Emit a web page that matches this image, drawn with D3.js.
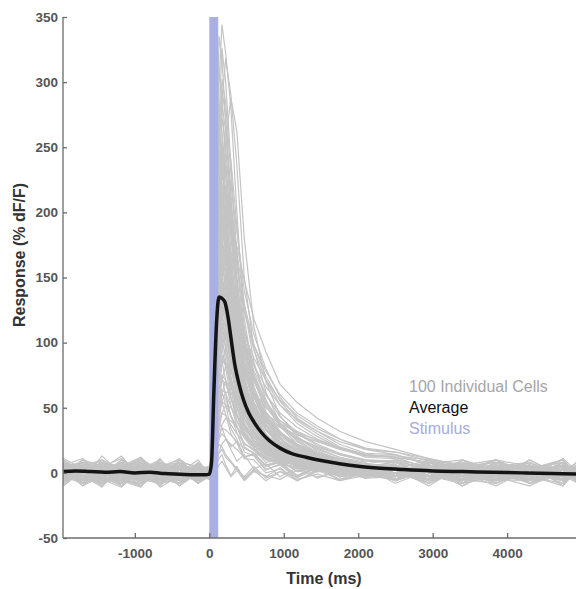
<!DOCTYPE html>
<html>
<head>
<meta charset="utf-8">
<script src="https://cdn.jsdelivr.net/npm/d3@7"></script>
<style>
  body { margin: 0; background: #fff; }
  svg { display: block; font-family: "Liberation Sans", Arial, sans-serif; }
</style>
</head>
<body>
<svg id="chart" width="576" height="589"></svg>
<script>
// sample times (ms) shared by every cell trace
const cellTimes = [-1960,-1700,-1440,-1180,-920,-660,-400,-150,0, 50,100,130,170,220,290,370,470,600,760,950,1180,1450,1750,2100, 2500,2950,3400,3850,4300,4750,4960];

// individual cells, grouped roughly by peak size (% dF/F)
const cellsVeryTall = [
  [5,-6,10,2,-8,3,11,-5,0, 12,190,300,344,322,280,200,118,74,45,30,18,12,6,4, 3,-8,10,-2,5,-6,2],
  [-3,8,-10,5,12,-2,-6,3,2, 20,240,335,318,270,196,130,82,50,33,20,12,5,7,1, -5,6,0,-10,3,8,-3],
  [8,0,-5,-11,3,10,-3,6,-2, 8,150,270,326,300,236,162,104,66,42,27,15,9,4,6, 0,5,-6,3,-3,11,0],
  [-8,3,6,-3,-10,5,2,-5,3, 5,110,205,285,318,290,236,150,95,62,38,24,15,10,5, 6,-3,2,10,-8,0,5],
  [2,-10,3,13,-5,-2,8,-8,-3, 25,250,310,288,235,168,112,70,44,28,17,8,6,2,-3, 8,-2,-8,5,0,-5,6],
  [11,3,-6,0,8,-11,-2,5,-5, 10,160,255,302,284,230,168,112,72,47,32,20,13,8,3, -2,10,3,-6,6,-10,3]
];
const cellsTall = [
  [-5,6,2,-8,10,3,-10,0,3, 14,175,262,295,272,215,150,96,60,38,24,14,8,3,5, 2,-6,5,8,-5,3,-2],
  [3,-2,-11,6,0,-6,10,2,-3, 4,60,120,190,255,288,262,180,112,70,44,28,17,10,6, -3,5,-10,2,8,-2,0],
  [6,11,0,-5,-10,2,5,-3,0, 30,230,280,262,214,150,100,62,40,26,16,11,4,6,0, 5,0,-5,-8,3,10,-6],
  [-10,2,8,5,-3,-8,0,6,-2, 9,150,235,272,250,198,140,92,58,37,23,13,10,5,2, 10,-5,3,0,-3,6,-8],
  [0,-5,13,-2,6,-3,-8,3,5, 3,90,170,235,266,240,190,128,85,56,36,22,14,9,6, -6,3,8,-3,-10,2,5],
  [5,-8,-3,10,2,-10,6,-2,-5, 22,210,260,242,200,146,100,66,42,27,18,9,7,1,3, 0,8,-3,5,-8,-2,10],
  [-2,10,5,-6,-11,8,3,-6,2, 11,140,222,255,236,185,130,85,54,34,22,15,8,4,-2, 3,-10,6,2,-5,8,-2],
  [8,-3,-8,3,11,-5,-3,8,0, 7,130,214,250,236,192,142,98,66,44,30,20,12,8,4, -8,2,-2,10,5,-5,0],
  [-6,5,3,-10,5,0,8,-5,3, 26,215,262,246,206,150,104,68,44,28,19,12,6,5,1, 6,-5,0,-6,10,-3,3],
  [2,6,-6,0,-2,11,-10,2,-2, 13,165,250,284,262,210,150,100,63,40,26,16,11,5,3, -3,6,-8,3,0,5,-5]
];
const cellsHigh = [
  [3,-5,8,-2,-6,5,0,-3,2, 10,135,210,245,230,188,140,100,72,52,36,25,16,11,7, 5,-2,-6,8,-3,2,-8],
  [-6,10,-2,5,8,-8,-5,5,-3, 20,195,240,224,186,134,92,60,38,24,14,10,4,3,-1, -5,8,2,-3,6,-6,3],
  [10,0,-10,3,-5,6,5,-8,0, 2,80,150,210,236,222,185,140,106,80,58,42,32,22,15, 14,6,0,10,-3,5,-6],
  [-3,-8,5,11,-2,-3,2,3,-5, 8,128,200,232,215,170,122,82,52,33,21,14,7,6,2, 2,-6,10,-2,-5,3,8],
  [5,3,-3,-8,10,0,-6,6,3, 12,132,198,228,218,182,140,104,76,55,40,30,21,14,9, 8,-3,5,-8,2,-2,5],
  [0,8,2,-5,-10,10,-2,-6,-2, 18,180,224,210,176,130,90,58,37,23,15,8,6,2,1, -2,3,-10,5,8,-5,0],
  [-8,2,6,0,3,-5,8,0,2, 4,72,140,195,220,205,170,130,98,74,55,40,30,20,14, 12,3,-5,6,0,10,-3],
  [6,-6,0,8,-3,2,-10,5,0, 9,118,186,216,200,158,112,74,48,30,19,12,8,4,3, -6,5,3,-5,10,-3,2],
  [-5,5,10,-6,2,-8,3,2,-3, 7,112,180,212,198,160,118,84,58,40,28,19,13,9,5, 3,10,-5,0,-8,6,-2],
  [2,-2,-6,3,12,-6,0,-2,3, 22,170,208,194,160,116,78,50,32,20,13,7,2,4,-2, 0,-5,6,3,-2,-10,6],
  [-10,3,2,-3,-6,5,10,-3,-2, 3,70,130,182,205,192,160,124,94,71,52,38,28,19,12, 11,0,-6,8,3,-3,2],
  [3,8,-5,-2,5,-10,6,0,5, 11,110,175,203,190,150,108,72,46,29,18,11,7,3,2, -3,2,8,-6,5,0,-5],
  [-2,-3,3,6,-8,3,-5,8,-3, 14,138,215,248,232,186,134,90,60,40,26,17,11,6,4, 6,-8,2,5,-3,8,-2],
  [8,2,-8,-3,6,0,3,-6,0, 9,128,204,238,228,196,160,125,98,78,60,46,36,26,18, 16,9,3,-2,6,-5,3],
  [-3,6,5,-10,0,8,-3,3,2, 19,178,218,205,170,124,84,54,35,22,14,9,5,1,2, -6,3,-2,8,-5,2,5],
  [5,-10,-2,2,10,-5,-8,2,-2, 10,115,182,210,196,158,116,80,54,36,24,16,10,7,3, 2,6,-8,-3,3,10,-6]
];
const cellsMid = [
  [0,5,-6,10,-3,-2,5,-5,3, 4,66,125,176,198,192,174,148,118,93,68,54,42,32,24, 18,11,6,10,0,5,-3],
  [-6,-3,8,2,5,-8,0,10,-2, 8,104,166,194,180,142,102,68,44,28,18,11,6,4,0, 5,-3,-6,6,2,-8,3],
  [10,-5,0,-6,-2,6,-6,-3,0, 16,155,190,178,148,108,74,48,31,20,12,6,4,3,1, -2,8,0,-5,-6,3,6],
  [-2,6,3,-5,8,2,-3,-2,-3, 9,100,160,186,176,146,112,82,60,42,30,21,14,9,6, 3,-6,8,2,-2,-5,0],
  [3,-8,-5,6,0,-10,8,5,2, 3,60,115,160,182,170,142,110,82,60,43,31,22,15,10, 8,2,-3,5,-6,0,3],
  [-5,2,10,-2,-6,3,2,-8,0, 8,96,152,178,166,132,96,64,42,27,17,10,7,2,3, -5,6,3,-8,5,2,-3],
  [6,3,-3,-10,3,5,-5,6,-2, 17,142,175,164,138,102,72,48,32,21,13,10,5,3,-1, 0,-8,5,3,-3,6,-5],
  [-8,0,5,3,-5,-3,6,2,3, 6,92,148,172,164,138,108,80,58,41,29,21,14,9,6, 6,0,-5,-2,8,-6,2],
  [2,-6,-2,8,6,-5,-2,-5,-3, 2,55,108,150,168,158,132,100,74,54,38,27,19,12,8, -3,5,-2,6,-8,3,0],
  [5,8,-8,0,-2,6,-6,3,-2, 7,88,142,165,154,122,88,58,38,25,16,10,6,3,1, 2,-5,6,-3,3,8,-6],
  [-3,-5,2,5,-8,8,3,-2,2, 15,132,162,152,126,92,64,42,27,17,11,5,4,-1,2, -6,3,2,-5,0,5,-2],
  [8,-2,-5,-6,2,-3,10,-3,0, 8,86,138,160,156,140,120,100,82,66,52,41,32,24,18, 14,7,10,2,5,-3,6],
  [0,6,6,-3,-5,0,-8,8,-5, 6,84,134,158,148,118,86,58,38,25,16,9,6,3,0, 3,-2,-8,5,6,-3,2],
  [-6,3,-3,2,10,-6,5,0,3, 1,48,98,138,155,146,122,94,70,51,36,26,18,12,7, 10,5,-3,-6,2,6,-5],
  [3,-10,8,-5,0,5,-2,-6,-2, 14,124,153,144,120,88,60,39,25,16,9,6,2,3,-2, -5,6,0,3,-8,2,5],
  [-2,5,0,8,-8,2,-3,5,0, 10,106,168,196,184,150,112,78,52,34,22,14,9,5,3, 0,5,-6,8,-2,-5,3],
  [5,0,-6,-2,3,8,-5,-2,2, 9,102,162,188,180,156,128,102,78,60,46,35,26,19,13, 12,3,-2,6,-5,2,-3],
  [-5,8,3,-8,5,-2,2,3,-3, 16,147,180,168,140,103,70,46,30,19,12,7,3,2,0, 5,-6,2,-3,6,-2,-8],
  [2,-3,-8,5,-3,6,-6,0,5, 7,90,146,170,160,130,98,70,48,33,22,14,10,5,4, -2,8,-3,-6,3,0,6],
  [6,-5,5,0,-10,3,0,-5,-2, 2,50,96,134,152,142,116,86,62,44,31,22,15,10,6, 6,-3,5,0,-6,3,-2]
];
const cellsMidLow = [
  [3,2,-5,-8,6,-3,5,-2,0, 6,80,128,148,138,110,80,54,36,24,15,9,6,2,1, -3,5,8,-5,0,-6,3],
  [-8,5,0,3,-3,10,-6,5,-3, 13,118,145,136,112,82,56,36,23,15,10,5,3,-2,1, 6,-2,-5,3,8,-3,0],
  [0,-6,6,5,-5,-2,3,-8,2, 2,46,92,128,142,138,124,106,88,71,56,44,34,26,19, 16,11,5,8,-2,3,0],
  [5,-3,-2,10,0,-8,-3,6,-2, 5,74,120,140,130,104,76,52,34,22,14,8,4,3,-1, 2,-8,3,6,-3,5,-5],
  [-3,6,3,-5,-8,5,8,-3,3, 7,72,116,136,128,106,82,60,42,29,20,13,9,5,2, -5,3,0,-2,6,-6,8],
  [8,-2,-6,0,3,-5,0,2,-5, 12,108,133,124,102,74,50,33,21,13,8,3,4,0,-2, 3,-5,6,-8,2,5,-2],
  [-2,3,-10,6,2,0,-5,3,0, 1,40,82,116,130,122,102,80,60,44,31,22,15,9,6, 5,0,-6,2,-3,8,-5],
  [3,-8,5,2,-6,6,-2,-5,2, 6,68,110,128,120,96,70,48,31,20,13,7,5,1,2, -6,6,-3,5,-2,-5,2],
  [-5,0,8,-3,5,-6,6,-2,-3, 5,66,106,125,121,108,92,76,62,50,40,32,25,19,14, 12,8,2,-3,5,0,-5],
  [2,5,-3,-6,8,-2,-8,6,3, 11,99,122,114,94,68,46,30,19,12,6,5,1,2,-3, 0,5,-8,3,6,-3,2],
  [6,-5,2,3,-2,8,-3,0,-2, 5,64,103,120,112,90,66,45,30,19,12,8,3,2,0, 3,-3,5,-6,-2,6,-3],
  [-10,2,5,-5,3,-3,2,5,0, 2,38,76,106,118,112,96,76,58,43,31,22,15,10,5, 8,-2,3,-5,0,5,-6],
  [0,10,-3,2,-10,3,5,-6,2, 5,62,99,115,108,88,66,46,31,21,14,9,6,3,1, -2,6,-5,0,8,-3,3],
  [5,-3,6,-8,0,2,-5,3,-3, 10,90,112,105,86,63,44,29,19,11,8,3,2,-1,1, 5,-6,2,6,-5,0,-2],
  [-3,-6,0,6,5,-6,3,-3,3, 4,58,94,110,104,86,66,48,34,24,16,11,8,4,3, 2,3,-6,5,-3,-2,6],
  [3,5,-8,-2,6,-5,-3,2,-2, 1,34,70,96,108,102,86,67,50,37,26,18,12,7,4, -3,5,8,-5,2,-6,3],
  [8,0,3,-5,-3,6,-6,5,0, 4,56,90,105,98,80,60,42,28,18,11,6,4,1,2, 6,-3,0,-8,3,5,-5],
  [-6,3,2,8,-5,0,5,-8,-2, 9,82,102,96,80,58,40,27,17,10,7,4,1,2,-2, -5,2,6,-2,-6,3,0],
  [2,-5,-3,5,8,-8,2,-3,3, 6,78,125,146,140,120,98,78,60,46,35,27,20,14,10, 9,3,-5,6,-2,2,-3],
  [-2,6,-5,-3,2,5,-6,6,-3, 2,44,88,124,138,130,108,82,60,43,30,21,14,9,5, 3,-5,6,2,-3,-8,5]
];
const cellsLow = [
  [5,2,-6,3,-5,8,-2,-3,2, 4,52,84,98,92,74,54,37,25,16,10,6,3,2,-1, 2,-5,3,6,-3,0,5],
  [-5,-3,8,0,3,-6,6,2,-2, 1,30,60,84,95,90,77,61,46,34,24,17,11,7,4, -3,6,-2,-5,5,2,-6],
  [3,6,-2,-8,0,5,-5,3,0, 9,74,92,86,71,52,36,20,15,6,8,-2,5,-3,1, 5,0,-6,3,-2,6,-3],
  [-8,5,3,-3,6,-2,0,-5,3, 4,48,76,88,83,68,51,36,25,17,11,7,5,2,1, -2,5,-5,8,0,-6,2],
  [2,-2,6,-6,-3,3,8,-2,-3, 4,46,74,85,84,78,70,62,53,45,38,31,25,19,14, 12,8,5,-2,3,-3,2],
  [6,-6,-3,5,-8,2,-3,6,2, 1,26,52,72,82,78,66,52,39,29,21,14,9,6,3, 0,-5,5,-3,6,-2,3],
  [-3,3,5,2,-6,-5,3,-2,-2, 8,63,78,73,60,44,31,16,13,2,7,-3,2,-5,0, 3,-3,-6,5,2,-5,6],
  [0,-8,2,6,3,-3,-6,5,0, 3,40,64,75,71,58,44,31,21,14,9,6,3,1,2, -6,2,3,-2,-5,5,0],
  [5,3,-5,-2,8,-6,2,-3,3, 3,38,61,72,68,57,45,34,25,18,13,9,6,4,2, 3,-2,5,-6,0,6,-3],
  [-6,0,3,-5,2,6,-3,-2,-3, 0,22,44,62,70,66,57,46,35,26,19,13,9,5,3, 5,-5,0,3,-8,2,-2],
  [3,-5,-8,3,-2,2,5,-5,2, 7,54,67,62,52,34,26,12,14,3,6,-4,5,-6,0, -2,3,6,-5,2,-3,5],
  [-2,6,2,-6,5,-3,3,0,-2, 3,34,54,64,61,51,40,30,22,15,10,7,4,2,1, 2,-6,3,5,-3,0,-5],
  [8,-3,0,2,-5,-8,6,3,0, 1,20,40,55,62,61,58,53,47,41,35,29,24,18,13, 13,10,6,3,-2,5,-3],
  [-5,2,5,-3,-6,5,-5,2,3, 2,32,51,60,57,43,36,22,18,8,10,1,4,-3,-1, -3,5,-2,6,-5,3,0],
  [2,5,-3,8,-2,-5,0,-6,-3, 6,47,58,54,45,30,23,11,10,0,3,-5,-1,-6,-2, 6,-3,2,-5,5,-2,-6],
  [-3,-2,6,0,3,-6,5,-3,2, 2,29,47,55,52,44,35,27,20,14,10,7,5,2,1, 0,5,-5,2,-2,6,-3],
  [5,-6,-2,3,-3,3,-2,5,-2, 0,16,32,46,52,50,44,36,28,21,15,11,7,4,2, -5,2,6,-3,0,-6,3],
  [0,3,-5,-6,5,0,-3,6,0, 4,49,78,90,85,71,56,42,31,22,16,11,7,5,2, 3,-2,-5,6,2,-3,5]
];
const cellsWeak = [
  [-2,5,-6,2,3,-5,3,-3,2, 2,24,39,46,44,37,30,23,17,12,9,6,3,2,0, 2,-3,5,-5,3,0,-2],
  [3,-3,2,-5,-2,6,-6,2,-2, 0,13,26,37,42,40,35,29,23,17,13,9,6,4,2, -3,3,0,5,-5,2,3],
  [-6,2,5,3,-3,-2,5,-5,3, 4,31,38,35,26,18,9,14,3,7,-3,4,-4,2,-2, 5,-5,2,-2,6,-3,0],
  [2,-3,-5,6,0,3,-5,0,-3, 2,18,29,34,33,29,24,19,15,11,8,6,4,2,1, -2,3,-6,2,5,-3,2],
  [5,0,3,-3,-6,2,2,-2,2, 1,16,26,30,27,20,24,12,15,5,8,-2,4,-3,1, 3,-2,-3,5,-5,2,-2],
  [-3,3,-2,5,2,-5,0,3,0, 0,8,16,22,26,22,18,12,15,6,9,1,5,-3,2, 0,3,-5,-2,3,5,-3],
  [2,-5,6,-2,3,-3,-3,5,-2, 2,18,22,20,14,9,3,-4,2,-6,1,-3,4,-5,0, -5,2,3,-3,0,5,-2],
  [-5,2,0,3,-5,5,-2,-3,3, 1,10,15,18,12,8,2,-3,5,-4,1,-6,2,-2,3, 2,-3,5,0,-2,-5,3],
  [3,-2,-3,-6,2,0,3,2,-3, 0,7,11,14,6,-2,5,-5,3,-3,4,-6,1,2,-4, -3,5,0,-6,2,3,-2],
  [0,5,-3,2,-2,-6,2,-5,2, -1,3,6,9,4,-3,2,-6,1,-2,-5,2,-3,1,-4, 3,-2,-5,3,0,-3,2]
];
const cells = [...cellsVeryTall, ...cellsTall, ...cellsHigh, ...cellsMid, ...cellsMidLow, ...cellsLow, ...cellsWeak];

// population average
const averageTimes = [-1960,-1800,-1600,-1400,-1200,-1000,-800,-600,-400,-200,-50,0,30,60,100,130,170,210,250,290,340,400,460,530,600,700,800,950,1100,1300,1500,1750,2000,2300,2600,3000,3400,3800,4200,4600,4960];
const averageValues = [1,1.5,1,0.5,1,0,0.5,-0.5,-1,-1.5,-1.5,-1,8,60,118,135,134,131,120,104,84,68,56,46,39,31,25,19,15,12,9.5,7,5,3.5,2.5,1.5,1,0.5,0,-0.5,-1];

// stimulus window (ms)
const stimulus = [0, 120];

const xTicks = [-1000, 0, 1000, 2000, 3000, 4000];
const yTicks = [-50, 0, 50, 100, 150, 200, 250, 300, 350];

const legendItems = [
  { label: "100 Individual Cells", color: "#a6a6a6" },
  { label: "Average", color: "#111111" },
  { label: "Stimulus", color: "#a7abdd" }
];

const svg = d3.select("#chart");
const margin = { top: 17, right: 0, bottom: 51, left: 63 };
const width = 576;
const height = 589;

const xScale = d3.scaleLinear().domain([-1965, 4925]).range([margin.left, width - margin.right]);
const yScale = d3.scaleLinear().domain([-50, 350]).range([height - margin.bottom, margin.top]);

const cellLine = d3.line()
  .x((d, i) => xScale(cellTimes[i]))
  .y((d) => yScale(d));

//individual traces
svg.append("g")
  .selectAll("path")
  .data(cells)
  .enter()
  .append("path")
  .attr("d", cellLine)
  .attr("fill", "none")
  .attr("stroke", "#c4c4c4")
  .attr("stroke-width", 1.2)
  .attr("stroke-linejoin", "round");

//stimulus bar
svg.append("rect")
  .attr("x", xScale(stimulus[0]))
  .attr("y", yScale(350))
  .attr("width", xScale(stimulus[1]) - xScale(stimulus[0]))
  .attr("height", yScale(-50) - yScale(350))
  .attr("fill", "#abb0e2");

//average trace
const averageLine = d3.line()
  .x((d, i) => xScale(averageTimes[i]))
  .y((d) => yScale(d))
  .curve(d3.curveMonotoneX);

svg.append("path")
  .datum(averageValues)
  .attr("d", averageLine)
  .attr("fill", "none")
  .attr("stroke", "#141414")
  .attr("stroke-width", 3.5)
  .attr("stroke-linejoin", "round");

//axes
const xAxis = d3.axisBottom(xScale).tickValues(xTicks).tickSize(-5).tickPadding(10).tickFormat((d) => String(d));
const yAxis = d3.axisLeft(yScale).tickValues(yTicks).tickSize(-4).tickPadding(5).tickFormat((d) => String(d));

const styleAxis = (g) => {
  g.select(".domain").attr("stroke", "#6b6b6b").attr("stroke-width", 1.3);
  g.selectAll(".tick line").attr("stroke", "#6b6b6b").attr("stroke-width", 1.3);
  g.selectAll(".tick text")
    .attr("fill", "#555")
    .style("font-size", "13.5px")
    .style("font-weight", "bold")
    .style("font-family", "'Liberation Sans', Arial, sans-serif");
};

svg.append("g")
  .attr("transform", `translate(0,${height - margin.bottom})`)
  .call(xAxis)
  .call(styleAxis)
  .call((g) => g.select(".domain").attr("d", `M${margin.left},0H${width}`));

svg.append("g")
  .attr("transform", `translate(${margin.left},0)`)
  .call(yAxis)
  .call(styleAxis)
  .call((g) => g.select(".domain").attr("d", `M0,${yScale(350)}V${yScale(-50)}`));

//axis titles
svg.append("text")
  .attr("x", 324)
  .attr("y", 584)
  .attr("text-anchor", "middle")
  .style("font-size", "16px")
  .style("font-weight", "bold")
  .attr("fill", "#333")
  .text("Time (ms)");

svg.append("text")
  .attr("transform", "translate(25,255) rotate(-90)")
  .attr("text-anchor", "middle")
  .style("font-size", "16px")
  .style("font-weight", "bold")
  .attr("fill", "#333")
  .text("Response (% dF/F)");

//legend
svg.append("g")
  .selectAll("text")
  .data(legendItems)
  .enter()
  .append("text")
  .attr("x", 409)
  .attr("y", (d, i) => 392 + i * 21)
  .style("font-size", "16px")
  .attr("fill", (d) => d.color)
  .text((d) => d.label);
</script>
</body>
</html>
